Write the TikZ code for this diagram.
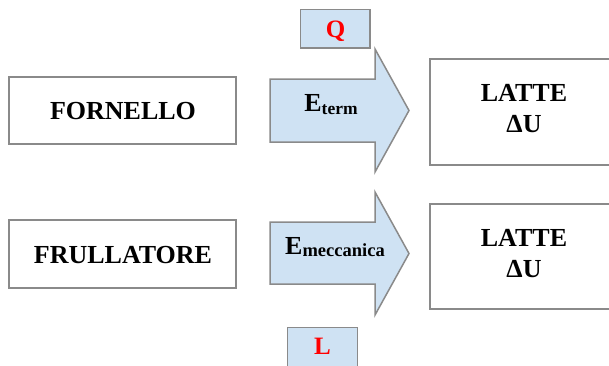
\documentclass[tikz,border=0pt]{standalone}
\usepackage{fontspec}
\setmainfont{Liberation Serif}
\begin{document}
\definecolor{edgegray}{HTML}{8A8A8A}
\definecolor{flowblue}{HTML}{CFE2F3}
\begin{tikzpicture}[x=1pt,y=-1pt,
  box/.style={draw=edgegray,line width=1.5pt,fill=white},
  flow/.style={draw=edgegray,line width=1.5pt,fill=flowblue,line join=miter},
  bigtxt/.style={font=\fontsize{26}{26}\selectfont\bfseries,inner sep=0pt,anchor=base},
  redtxt/.style={font=\fontsize{25}{25}\selectfont\bfseries,text=red,inner sep=0pt,anchor=base}]
\useasboundingbox (0,0) rectangle (609,365);

% source boxes
\draw[box] (9,77) rectangle (236,144);
\node[bigtxt] (fornello) at (123,119.5) {FORNELLO};
\draw[box] (9,220) rectangle (236,288);
\node[bigtxt] (frullatore) at (123,263) {FRULLATORE};

% heat label box
\draw[flow] (300.5,9.5) rectangle (370,48);
\node[redtxt] (q) at (335.5,37) {Q};

% work label box
\draw[flow] (287.5,327.5) rectangle (357.5,370);
\node[redtxt] (l) at (322.5,354.5) {L};

% energy-flow arrows
\draw[flow] (270,79) -- (375,79) -- (375,49) -- (409,110.5) -- (375,172) -- (375,142) -- (270,142) -- cycle;
\node[bigtxt] (eterm) at (331,111.7) {E\raisebox{-2.7pt}{\fontsize{17.5}{17.5}\selectfont term}};
\draw[flow] (270,222) -- (375,222) -- (375,192) -- (409,253.5) -- (375,315) -- (375,284) -- (270,284) -- cycle;
\node[bigtxt] (emecc) at (335,254) {E\raisebox{-2.7pt}{\fontsize{18.5}{18.5}\selectfont meccanica}};

% milk boxes
\draw[box] (430,59) rectangle (620,165);
\node[bigtxt] (latte1) at (524,101) {LATTE};
\node[bigtxt] (du1) at (524,132) {ΔU};
\draw[box] (430,204) rectangle (620,309);
\node[bigtxt] (latte2) at (524,246) {LATTE};
\node[bigtxt] (du2) at (524,277) {ΔU};
\end{tikzpicture}
\end{document}
